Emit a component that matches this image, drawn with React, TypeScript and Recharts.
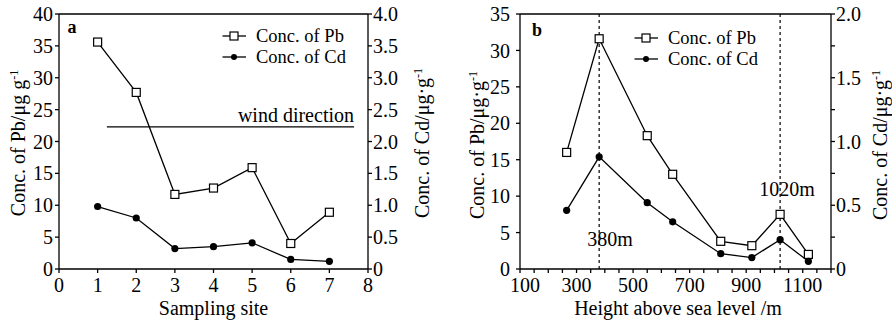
import React from 'react';
import { LineChart, Line, XAxis, YAxis, ReferenceLine } from 'recharts';

// panel a: sampling sites
const sites = [1, 2, 3, 4, 5, 6, 7];
const pbSites = [35.6, 27.7, 11.7, 12.7, 15.9, 4.0, 8.9];
const cdSites = [0.98, 0.8, 0.32, 0.35, 0.41, 0.15, 0.12];
const siteTicks = [0, 1, 2, 3, 4, 5, 6, 7, 8];
const pbTicksA = [0, 5, 10, 15, 20, 25, 30, 35, 40];
const cdTicksA = [0, 0.5, 1, 1.5, 2, 2.5, 3, 3.5, 4];
const windLevel = 22.3;
const windFrom = 1.24;
const windTo = 7.64;

// panel b: altitude profile
const heights = [265, 380, 550, 640, 810, 920, 1020, 1120];
const pbHeights = [16.0, 31.6, 18.3, 13.0, 3.8, 3.2, 7.5, 2.0];
const cdHeights = [0.46, 0.88, 0.52, 0.37, 0.12, 0.09, 0.23, 0.06];
const heightTicks = [
  100, 150, 200, 250, 300, 350, 400, 450, 500, 550, 600, 650, 700, 750, 800,
  850, 900, 950, 1000, 1050, 1100, 1150, 1200,
];
const heightLabels = [100, 300, 500, 700, 900, 1100];
const pbTicksB = [0, 5, 10, 15, 20, 25, 30, 35];
const cdTicksB = [0, 0.25, 0.5, 0.75, 1, 1.25, 1.5, 1.75, 2];
const markedHeights = [380, 1020];

const dataA = sites.map((x, i) => ({ x, pb: pbSites[i], cd: cdSites[i] }));
const dataB = heights.map((x, i) => ({ x, pb: pbHeights[i], cd: cdHeights[i] }));

const FONT = '"Liberation Serif", "Times New Roman", serif';
const FS = 20;
const tick = { fill: '#000', fontSize: FS, fontFamily: FONT };
const ax = { stroke: '#000', strokeWidth: 1.3 };

const SquareDot = (props: any) => {
  const { cx, cy, index } = props;
  if (cx == null || cy == null) return <g key={`sq${index}`} />;
  return (
    <rect
      key={`sq${index}`}
      x={cx - 4}
      y={cy - 4}
      width={8}
      height={8}
      fill="#fff"
      stroke="#000"
      strokeWidth={1.2}
    />
  );
};

const RoundDot = (props: any) => {
  const { cx, cy, index } = props;
  if (cx == null || cy == null) return <g key={`rd${index}`} />;
  return <circle key={`rd${index}`} cx={cx} cy={cy} r={3.6} fill="#000" />;
};

const cdFmt = (v: number) => (v === 0 ? '0' : v.toFixed(1));

// only every 200 m gets a label; the first one sits a bit right, clear of the y "0"
const HeightTick = (props: any) => {
  const { x, y, payload } = props;
  const v = payload?.value;
  if (!heightLabels.includes(v)) return <g />;
  const shift = v === heightLabels[0] ? 5 : 0;
  return (
    <text
      x={x + shift}
      y={y}
      dy="0.71em"
      textAnchor="middle"
      fill="#000"
      fontSize={FS}
      fontFamily={FONT}
    >
      {v}
    </text>
  );
};

// legend rows sit a little apart so the two labels don't collide
function LegendBox({ left, top }: { left: number; top: number }) {
  const rows = [
    { name: 'Conc. of Pb', square: true },
    { name: 'Conc. of Cd', square: false },
  ];
  return (
    <div
      style={{
        position: 'absolute',
        left,
        top,
        fontFamily: FONT,
        fontSize: 18.5,
        color: '#000',
      }}
    >
      {rows.map((r) => (
        <div key={r.name} style={{ display: 'flex', alignItems: 'center', height: 21 }}>
          <svg width={34} height={18}>
            <line x1={0.5} x2={24} y1={9} y2={9} stroke="#000" strokeWidth={1.3} />
            {r.square ? (
              <rect x={8} y={5} width={8} height={8} fill="#fff" stroke="#000" strokeWidth={1.2} />
            ) : (
              <circle cx={12} cy={9} r={3} fill="#000" />
            )}
          </svg>
          <span style={{ lineHeight: '18px', whiteSpace: 'nowrap' }}>{r.name}</span>
        </div>
      ))}
    </div>
  );
}

function Txt({
  x,
  y,
  children,
  rotate,
  bold,
  size = FS,
  anchor = 'center',
}: {
  x: number;
  y: number;
  children: React.ReactNode;
  rotate?: boolean;
  bold?: boolean;
  size?: number;
  anchor?: 'center' | 'right';
}) {
  const tx = anchor === 'right' ? '-100%' : '-50%';
  return (
    <div
      style={{
        position: 'absolute',
        left: x,
        top: y,
        transform: `translate(${tx}, -50%)${rotate ? ' rotate(-90deg)' : ''}`,
        transformOrigin: anchor === 'right' ? 'right center' : 'center',
        fontFamily: FONT,
        fontSize: size,
        fontWeight: bold ? 'bold' : 'normal',
        whiteSpace: 'nowrap',
        lineHeight: 1,
        color: '#000',
      }}
    >
      {children}
    </div>
  );
}

const sup = { fontSize: '0.6em', verticalAlign: '0.6em' };

export default function App() {
  return (
    <div style={{ position: 'absolute', left: 0, top: 0, width: 892, height: 320, background: '#fff' }}>
      <div style={{ position: 'absolute', left: 0, top: 0 }}>
        <LineChart
          width={446}
          height={320}
          data={dataA}
          margin={{ top: 14, right: 28, bottom: 11, left: 9 }}
        >
          <XAxis
            type="number"
            dataKey="x"
            domain={[0, 8]}
            ticks={siteTicks}
            interval={0}
            tick={tick}
            tickSize={4}
            tickMargin={5}
            height={40}
            axisLine={ax}
            tickLine={ax}
          />
          <YAxis
            yAxisId="left"
            domain={[0, 40]}
            ticks={pbTicksA}
            interval={0}
            tick={tick}
            tickSize={4}
            tickMargin={2}
            width={50}
            axisLine={ax}
            tickLine={ax}
          />
          <YAxis
            yAxisId="right"
            orientation="right"
            domain={[0, 4]}
            ticks={cdTicksA}
            interval={0}
            tickFormatter={cdFmt}
            tick={tick}
            tickSize={4}
            tickMargin={1}
            width={50}
            axisLine={ax}
            tickLine={ax}
          />
          <ReferenceLine yAxisId="left" y={40} stroke="#000" strokeWidth={1.3} />
          <ReferenceLine
            yAxisId="left"
            segment={[
              { x: windFrom, y: windLevel },
              { x: windTo, y: windLevel },
            ]}
            stroke="#000"
            strokeWidth={1.3}
          />
          <Line
            yAxisId="left"
            dataKey="pb"
            type="linear"
            stroke="#000"
            strokeWidth={1.3}
            dot={SquareDot}
            activeDot={false}
            isAnimationActive={false}
          />
          <Line
            yAxisId="right"
            dataKey="cd"
            type="linear"
            stroke="#000"
            strokeWidth={1.3}
            dot={RoundDot}
            activeDot={false}
            isAnimationActive={false}
          />
        </LineChart>
      </div>

      <div style={{ position: 'absolute', left: 440, top: 0 }}>
        <LineChart
          width={452}
          height={320}
          data={dataB}
          margin={{ top: 14, right: 11, bottom: 11, left: 30 }}
        >
          <XAxis
            type="number"
            dataKey="x"
            domain={[100, 1200]}
            ticks={heightTicks}
            interval={0}
            tick={HeightTick}
            tickSize={4}
            tickMargin={5}
            height={40}
            axisLine={ax}
            tickLine={ax}
          />
          <YAxis
            yAxisId="left"
            domain={[0, 35]}
            ticks={pbTicksB}
            interval={0}
            tick={tick}
            tickSize={4}
            tickMargin={6}
            width={50}
            axisLine={ax}
            tickLine={ax}
          />
          <YAxis
            yAxisId="right"
            orientation="right"
            domain={[0, 2]}
            ticks={cdTicksB}
            interval={0}
            tickFormatter={(v: number) => (Number.isInteger(v * 2) ? cdFmt(v) : '')}
            tick={tick}
            tickSize={4}
            tickMargin={1}
            width={50}
            axisLine={ax}
            tickLine={ax}
          />
          <ReferenceLine yAxisId="left" y={35} stroke="#000" strokeWidth={1.3} />
          {markedHeights.map((h) => (
            <ReferenceLine
              key={h}
              yAxisId="left"
              x={h}
              stroke="#000"
              strokeWidth={1.2}
              strokeDasharray="3 3"
            />
          ))}
          <Line
            yAxisId="left"
            dataKey="pb"
            type="linear"
            stroke="#000"
            strokeWidth={1.3}
            dot={SquareDot}
            activeDot={false}
            isAnimationActive={false}
          />
          <Line
            yAxisId="right"
            dataKey="cd"
            type="linear"
            stroke="#000"
            strokeWidth={1.3}
            dot={RoundDot}
            activeDot={false}
            isAnimationActive={false}
          />
        </LineChart>
      </div>

      <LegendBox left={222} top={25} />
      <LegendBox left={634} top={27} />

      {/* panel letters and annotations */}
      <Txt x={72} y={27} bold size={18}>a</Txt>
      <Txt x={537} y={30} bold size={18}>b</Txt>
      <Txt x={354} y={115} anchor="right">wind direction</Txt>
      <Txt x={610} y={239}>380m</Txt>
      <Txt x={787} y={189}>1020m</Txt>

      {/* axis titles */}
      <Txt x={213.5} y={308}>Sampling site</Txt>
      <Txt x={678} y={308}>Height above sea level /m</Txt>
      <Txt x={18} y={143} rotate>
        Conc. of Pb/μg g<span style={sup}>-1</span>
      </Txt>
      <Txt x={422} y={143} rotate>
        Conc. of Cd/μg·g<span style={sup}>-1</span>
      </Txt>
      <Txt x={477} y={145} rotate>
        Conc. of Pb/μg·g<span style={sup}>-1</span>
      </Txt>
      <Txt x={880} y={145} rotate>
        Conc. of Cd/μg·g<span style={sup}>-1</span>
      </Txt>
    </div>
  );
}
